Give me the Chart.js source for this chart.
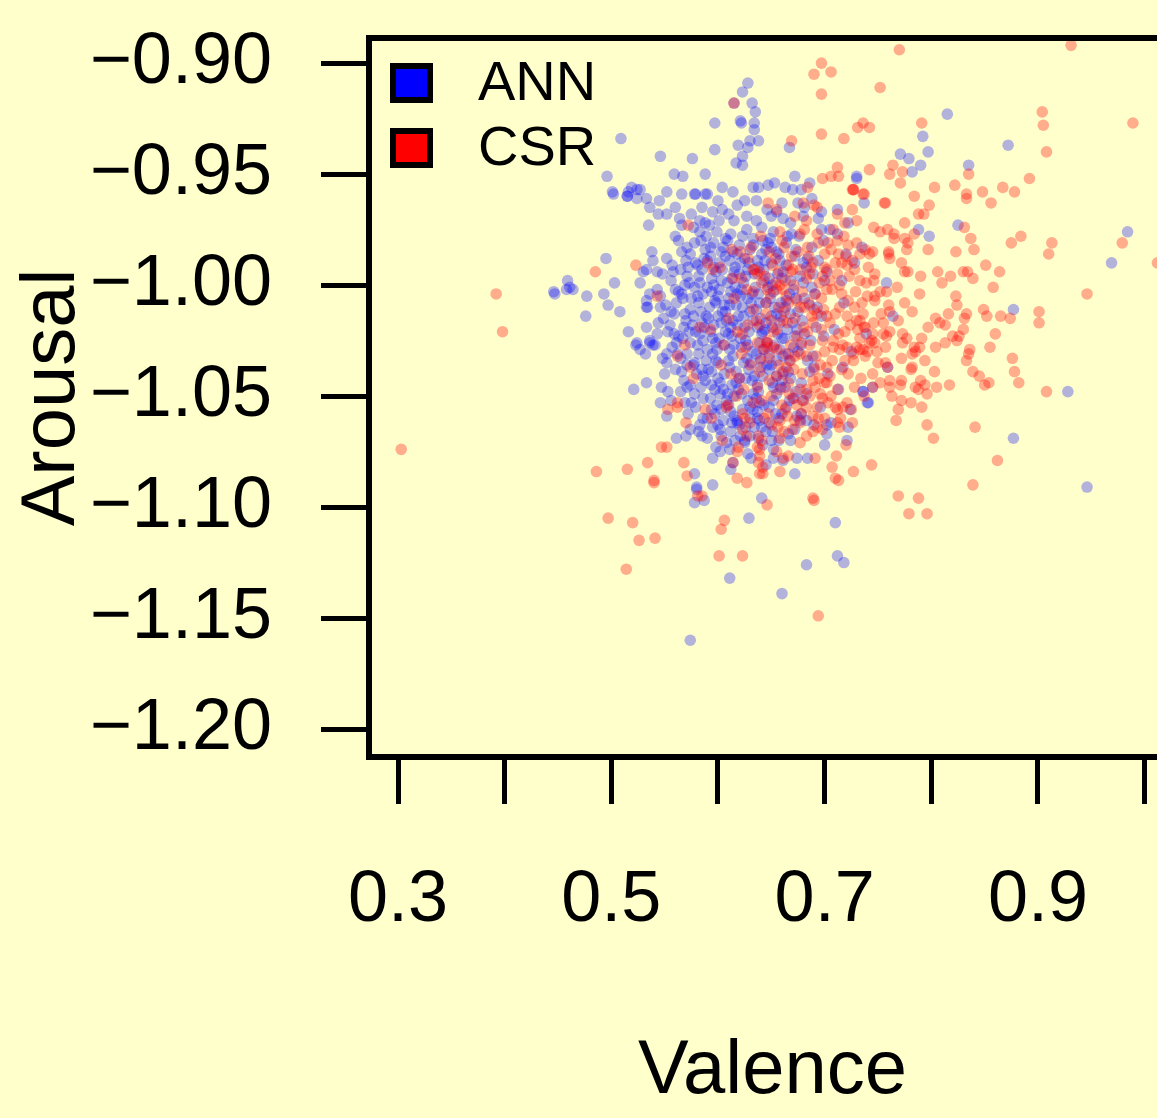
<!DOCTYPE html>
<html>
<head>
<meta charset="utf-8">
<script src="https://cdn.jsdelivr.net/npm/chart.js@4/dist/chart.umd.min.js"></script>
<style>
  html, body { margin: 0; padding: 0; background: #ffffcc; overflow: hidden; }
  canvas { display: block; }
</style>
</head>
<body>
<canvas id="scatter" width="1200" height="1118"></canvas>
<script>
// axis ticks
const xTicks = [0.3, 0.4, 0.5, 0.6, 0.7, 0.8, 0.9, 1.0];
const xLabelled = [0.3, 0.5, 0.7, 0.9];
const yTicks = [-1.20, -1.15, -1.10, -1.05, -1.00, -0.95, -0.90];

// ANN predictions [valence, arousal]
const annPoints = [
  // sparse points around the cluster
  [0.815,-0.923],[0.792,-0.933],[0.797,-0.940],[0.771,-0.941],[0.779,-0.943],[0.872,-0.937],
  [0.790,-0.946],[0.782,-0.949],[0.835,-0.946],[0.730,-0.951],[0.737,-0.963],[0.984,-0.976],
  [0.969,-0.990],[0.825,-0.973],[0.788,-0.975],[0.798,-0.978],[0.735,-0.983],[0.758,-0.999],
  [0.877,-1.011],[0.764,-1.014],[0.739,-1.022],[0.759,-1.037],[0.745,-1.046],[0.736,-1.048],
  [0.741,-1.053],[0.928,-1.048],[0.877,-1.069],[0.946,-1.091],
  [0.578,-1.098],[0.587,-1.097],[0.580,-1.092],[0.641,-1.096],[0.629,-1.105],[0.710,-1.107],
  [0.712,-1.122],[0.718,-1.125],[0.683,-1.126],[0.611,-1.132],[0.660,-1.139],[0.574,-1.160],
  [0.578,-1.085],[0.580,-1.091],[0.561,-1.069],[0.570,-1.068],[0.574,-1.065],
  [0.521,-1.047],[0.533,-1.044],[0.547,-1.046],[0.553,-1.048],[0.546,-1.053],[0.552,-1.059],
  [0.550,-1.040],[0.523,-1.027],[0.527,-1.029],[0.532,-1.031],[0.536,-1.026],[0.541,-1.027],
  [0.548,-1.033],[0.552,-1.031],
  [0.495,-0.988],[0.459,-0.998],[0.461,-1.001],[0.458,-1.002],[0.464,-1.002],[0.446,-1.003],
  [0.447,-1.004],[0.477,-1.005],[0.503,-0.999],[0.493,-1.004],[0.497,-1.009],[0.508,-1.012],
  [0.476,-1.014],[0.516,-1.021],
  [0.502,-0.959],[0.515,-0.960],[0.524,-0.961],[0.516,-0.958],[0.524,-0.957],[0.533,-0.961],
  [0.545,-0.962],[0.536,-0.965],[0.552,-0.958],[0.566,-0.959],[0.578,-0.959],[0.588,-0.959],
  [0.560,-0.965],[0.564,-0.970],[0.544,-0.968],[0.552,-0.968],[0.535,-0.973],[0.583,-0.971],
  [0.588,-0.972],[0.538,-0.985],[0.539,-0.989],[0.533,-0.993],[0.527,-0.999],[0.530,-0.994],
  [0.543,-0.994],[0.543,-1.002],[0.536,-1.004],[0.533,-1.007],[0.546,-1.005],[0.534,-1.010],
  [0.533,-1.010],[0.546,-1.010],[0.533,-1.019],[0.544,-1.017],[0.553,-1.021],[0.524,-1.026],
  [0.536,-1.025],[0.539,-1.027],[0.543,-1.022],
  [0.628,-0.909],[0.623,-0.913],[0.615,-0.918],[0.632,-0.918],[0.635,-0.922],[0.621,-0.926],
  [0.622,-0.927],[0.634,-0.927],[0.634,-0.930],[0.630,-0.935],[0.638,-0.935],[0.628,-0.938],
  [0.619,-0.937],[0.623,-0.942],[0.617,-0.945],[0.623,-0.946],[0.597,-0.927],[0.597,-0.939],
  [0.509,-0.934],[0.546,-0.942],[0.576,-0.943],[0.588,-0.950],[0.559,-0.950],[0.567,-0.951],
  [0.496,-0.951],[0.501,-0.958],[0.519,-0.956],[0.527,-0.957],[0.515,-0.960],
  [0.579,-0.959],[0.590,-0.959],[0.604,-0.956],[0.614,-0.958],[0.633,-0.956],[0.638,-0.956],
  [0.647,-0.955],[0.653,-0.954],[0.663,-0.956],[0.670,-0.957],[0.678,-0.957],[0.672,-0.951],
  [0.667,-0.938],[0.686,-0.954],[0.730,-0.952],
  [0.717,-1.037],[0.736,-1.048],[0.740,-1.053],[0.724,-1.056],[0.722,-1.064],[0.721,-1.070],
  [0.702,-1.063],[0.702,-1.067],[0.674,-1.059],[0.677,-1.061],[0.683,-1.061],[0.668,-1.070],
  [0.674,-1.078],[0.652,-1.078],[0.595,-1.090],[0.614,-1.080],[0.595,-1.064],[0.602,-1.065],
  [0.611,-1.074],[0.602,-1.075],[0.630,-1.068],[0.625,-1.070],[0.651,-1.066],[0.639,-1.061],
  [0.641,-1.064],[0.630,-1.055],[0.633,-1.056],[0.613,-1.062],[0.618,-1.062],
  // dense core
  [0.575,-0.968],[0.592,-0.973],[0.604,-0.966],[0.615,-0.971],[0.627,-0.969],[0.641,-0.974],
  [0.655,-0.967],[0.668,-0.972],[0.681,-0.965],[0.694,-0.970],[0.705,-0.975],
  [0.560,-0.978],[0.571,-0.983],[0.583,-0.976],[0.596,-0.981],[0.603,-0.985],[0.612,-0.977],
  [0.620,-0.982],[0.633,-0.979],[0.645,-0.984],[0.652,-0.976],[0.664,-0.981],[0.676,-0.978],
  [0.688,-0.983],[0.699,-0.980],[0.712,-0.977],
  [0.552,-0.988],[0.565,-0.993],[0.574,-0.986],[0.581,-0.991],[0.590,-0.989],[0.598,-0.994],
  [0.607,-0.987],[0.616,-0.992],[0.625,-0.988],[0.634,-0.995],[0.641,-0.986],[0.650,-0.990],
  [0.661,-0.994],[0.672,-0.987],[0.683,-0.992],[0.694,-0.989],[0.702,-0.994],
  [0.556,-0.998],[0.563,-1.003],[0.571,-0.996],[0.578,-1.001],[0.586,-1.004],[0.594,-0.997],
  [0.601,-1.002],[0.609,-0.999],[0.618,-1.004],[0.626,-0.996],[0.635,-1.001],[0.643,-0.998],
  [0.652,-1.003],[0.660,-0.997],[0.671,-1.002],[0.680,-0.999],[0.691,-1.004],[0.700,-0.998],
  [0.551,-1.009],[0.559,-1.013],[0.567,-1.006],[0.574,-1.011],[0.582,-1.008],[0.589,-1.014],
  [0.597,-1.007],[0.604,-1.012],[0.611,-1.009],[0.619,-1.014],[0.628,-1.006],[0.636,-1.011],
  [0.645,-1.008],[0.655,-1.013],[0.664,-1.007],[0.675,-1.012],[0.686,-1.009],[0.697,-1.014],
  [0.555,-1.018],[0.563,-1.023],[0.570,-1.016],[0.579,-1.021],[0.587,-1.019],[0.595,-1.024],
  [0.603,-1.017],[0.610,-1.022],[0.618,-1.018],[0.626,-1.025],[0.633,-1.016],[0.642,-1.021],
  [0.651,-1.019],[0.660,-1.024],[0.670,-1.017],[0.681,-1.022],[0.692,-1.019],
  [0.557,-1.028],[0.565,-1.033],[0.574,-1.026],[0.582,-1.031],[0.590,-1.029],[0.598,-1.034],
  [0.606,-1.027],[0.614,-1.032],[0.622,-1.028],[0.631,-1.035],[0.639,-1.026],[0.648,-1.031],
  [0.658,-1.029],[0.667,-1.034],[0.678,-1.027],[0.689,-1.032],
  [0.560,-1.038],[0.568,-1.043],[0.577,-1.036],[0.586,-1.041],[0.594,-1.039],[0.602,-1.044],
  [0.611,-1.037],[0.620,-1.042],[0.629,-1.038],[0.637,-1.045],[0.646,-1.036],[0.655,-1.041],
  [0.666,-1.039],[0.678,-1.044],[0.690,-1.037],
  [0.565,-1.048],[0.575,-1.053],[0.584,-1.046],[0.593,-1.051],[0.602,-1.049],[0.610,-1.054],
  [0.619,-1.047],[0.628,-1.052],[0.638,-1.048],[0.648,-1.055],[0.659,-1.046],[0.671,-1.051],
  [0.683,-1.049],
  [0.572,-1.058],[0.583,-1.063],[0.594,-1.056],[0.605,-1.061],[0.615,-1.059],[0.626,-1.064],
  [0.637,-1.057],[0.648,-1.062],[0.660,-1.058],[0.672,-1.065],
  [0.585,-1.068],[0.598,-1.073],[0.612,-1.066],[0.625,-1.071],[0.638,-1.069],[0.652,-1.074],
  [0.666,-1.067],
  [0.595,-1.078],[0.612,-1.083],[0.628,-1.076],[0.645,-1.081],[0.661,-1.079],
  [0.579,-0.990],[0.588,-0.984],[0.596,-0.992],[0.605,-0.983],[0.613,-0.997],[0.621,-0.990],
  [0.630,-0.984],[0.638,-0.992],[0.647,-0.981],[0.656,-0.995],
  [0.575,-1.006],[0.583,-0.999],[0.592,-1.010],[0.600,-1.005],[0.608,-1.016],[0.616,-1.001],
  [0.623,-1.010],[0.632,-1.004],[0.640,-1.015],[0.649,-1.006],[0.658,-1.017],[0.667,-1.004],
  [0.573,-1.021],[0.581,-1.027],[0.591,-1.015],[0.599,-1.029],[0.607,-1.021],[0.615,-1.027],
  [0.624,-1.014],[0.632,-1.030],[0.641,-1.022],[0.650,-1.036],[0.662,-1.024],
  [0.580,-1.040],[0.589,-1.034],[0.597,-1.047],[0.606,-1.040],[0.615,-1.050],[0.624,-1.035],
  [0.633,-1.049],[0.642,-1.041],[0.652,-1.052],[0.663,-1.046],
  [0.590,-1.060],[0.603,-1.068],[0.618,-1.061],[0.631,-1.078],[0.645,-1.066],[0.657,-1.060],
  [0.600,-0.962],[0.618,-0.964],[0.636,-0.962],[0.660,-0.963],[0.688,-0.961],[0.712,-0.966],
  [0.720,-0.986],[0.716,-0.998],[0.709,-1.020],[0.703,-1.040],[0.696,-1.055],[0.690,-1.063],
  [0.722,-0.972],[0.728,-0.990],[0.718,-1.008],[0.725,-1.030],[0.713,-1.047],[0.706,-1.062],
  [0.700,-1.072],[0.684,-1.078],[0.672,-1.085],
  [0.566,-0.985],[0.584,-0.980],[0.599,-0.976],[0.611,-0.989],[0.627,-0.975],[0.642,-0.980],
  [0.657,-0.986],[0.669,-0.977],[0.684,-0.988],[0.697,-0.975],
  [0.558,-0.994],[0.569,-1.000],[0.585,-0.993],[0.603,-0.998],[0.620,-0.995],[0.637,-0.989],
  [0.648,-0.997],[0.664,-0.991],[0.677,-0.996],[0.689,-0.995],
  [0.561,-1.008],[0.577,-1.014],[0.594,-1.003],[0.606,-1.009],[0.621,-1.005],[0.639,-1.008],
  [0.653,-1.010],[0.668,-1.013],[0.681,-1.006],[0.693,-1.010],
  [0.559,-1.022],[0.576,-1.018],[0.593,-1.021],[0.612,-1.019],[0.629,-1.021],[0.645,-1.017],
  [0.656,-1.022],[0.674,-1.020],[0.687,-1.025],[0.699,-1.023],
  [0.562,-1.031],[0.578,-1.035],[0.595,-1.031],[0.611,-1.029],[0.627,-1.033],[0.643,-1.029],
  [0.661,-1.032],[0.675,-1.030],[0.686,-1.039],
  [0.571,-1.046],[0.588,-1.043],[0.605,-1.047],[0.617,-1.044],[0.634,-1.041],[0.651,-1.044],
  [0.668,-1.042],[0.680,-1.052],
  [0.579,-1.055],[0.597,-1.058],[0.612,-1.057],[0.630,-1.060],[0.643,-1.054],[0.664,-1.055],
  [0.678,-1.058],
  [0.590,-1.069],[0.608,-1.071],[0.621,-1.068],[0.642,-1.072],[0.657,-1.070],
  [0.548,-0.995],[0.549,-1.015],[0.552,-1.035],[0.556,-1.052],[0.566,-0.973],[0.585,-0.965],
  [0.625,-0.962],[0.650,-0.969],[0.675,-0.963],[0.697,-0.967],
  [0.563,-0.980],[0.577,-0.974],[0.589,-0.978],[0.601,-0.971],[0.609,-0.980],[0.623,-0.978],
  [0.636,-0.971],[0.649,-0.979],[0.661,-0.970],[0.673,-0.984],
  [0.557,-0.991],[0.570,-0.989],[0.582,-0.996],[0.593,-0.987],[0.604,-0.993],[0.614,-0.985],
  [0.628,-0.993],[0.644,-0.989],[0.655,-0.985],[0.668,-0.998],[0.680,-0.990],
  [0.560,-1.002],[0.573,-0.999],[0.590,-1.001],[0.598,-1.008],[0.612,-1.003],[0.624,-0.999],
  [0.631,-1.008],[0.647,-1.001],[0.659,-1.008],[0.673,-1.006],[0.688,-1.001],
  [0.556,-1.012],[0.568,-1.019],[0.584,-1.012],[0.596,-1.018],[0.607,-1.012],[0.617,-1.009],
  [0.625,-1.019],[0.637,-1.019],[0.650,-1.014],[0.665,-1.020],[0.679,-1.016],
  [0.561,-1.026],[0.571,-1.031],[0.586,-1.025],[0.601,-1.024],[0.610,-1.034],[0.621,-1.024],
  [0.636,-1.031],[0.646,-1.026],[0.655,-1.034],[0.671,-1.028],[0.684,-1.034],
  [0.566,-1.039],[0.574,-1.045],[0.591,-1.038],[0.600,-1.042],[0.613,-1.045],[0.626,-1.042],
  [0.640,-1.037],[0.652,-1.046],[0.661,-1.039],[0.673,-1.048],
  [0.569,-1.053],[0.586,-1.051],[0.599,-1.054],[0.609,-1.049],[0.623,-1.056],[0.636,-1.051],
  [0.654,-1.058],[0.667,-1.052],
  [0.582,-1.066],[0.600,-1.063],[0.616,-1.070],[0.634,-1.064],[0.650,-1.070],
  [0.595,-0.967],[0.610,-0.968],[0.646,-0.966],[0.680,-0.969],
  [0.572,-0.992],[0.587,-0.988],[0.601,-0.990],[0.615,-0.994],[0.629,-0.990],[0.643,-0.993],
  [0.658,-0.989],[0.566,-1.004],[0.581,-1.005],[0.596,-1.000],[0.610,-1.006],[0.622,-1.002],
  [0.638,-1.004],[0.651,-1.000],[0.663,-1.010],[0.569,-1.013],[0.585,-1.017],[0.600,-1.014],
  [0.614,-1.016],[0.630,-1.012],[0.644,-1.020],[0.659,-1.014],[0.672,-1.023],[0.567,-1.024],
  [0.583,-1.022],[0.598,-1.026],[0.613,-1.023],[0.628,-1.027],[0.640,-1.033],[0.653,-1.027],
  [0.666,-1.031],[0.571,-1.036],[0.585,-1.038],[0.600,-1.035],[0.617,-1.039],[0.632,-1.043],
  [0.648,-1.038],[0.660,-1.043],[0.578,-1.049],[0.594,-1.045],[0.608,-1.052],[0.622,-1.049],
  [0.639,-1.053],[0.655,-1.049],[0.586,-1.060],[0.603,-1.056],[0.620,-1.063],[0.637,-1.060],
  [0.578,-0.981],[0.593,-0.983],[0.607,-0.979],[0.618,-0.986],[0.633,-0.982],[0.650,-0.983],
  [0.665,-0.978]
];

// CSR predictions [valence, arousal]
const csrPoints = [
  [0.770,-0.894],[0.931,-0.892],[0.752,-0.911],[0.736,-0.927],[0.742,-0.929],[0.791,-0.927],
  [0.904,-0.922],[0.905,-0.928],[0.989,-0.927],[0.908,-0.940],[0.764,-0.946],[0.761,-0.950],
  [0.773,-0.949],[0.835,-0.950],[0.742,-0.948],[0.771,-0.954],[0.803,-0.956],[0.822,-0.955],
  [0.833,-0.959],[0.833,-0.961],[0.848,-0.958],[0.867,-0.956],[0.878,-0.958],[0.892,-0.952],
  [0.856,-0.963],[0.798,-0.964],[0.784,-0.960],[0.757,-0.963],[0.727,-0.957],[0.737,-0.959],
  [0.979,-0.981],[1.012,-0.990],[0.946,-1.004],[0.913,-0.981],[0.910,-0.986],[0.884,-0.978],
  [0.875,-0.981],[0.831,-0.974],[0.837,-0.979],[0.840,-0.984],[0.823,-0.985],[0.793,-0.968],
  [0.788,-0.968],[0.797,-0.984],[0.775,-0.972],[0.759,-0.975],[0.765,-0.977],[0.765,-0.979],
  [0.775,-0.979],[0.778,-0.981],[0.777,-0.984],[0.784,-0.977],[0.746,-0.974],[0.742,-0.986],
  [0.760,-0.986],[0.761,-0.988],[0.756,-0.963],[0.851,-0.991],[0.864,-0.994],[0.806,-0.994],
  [0.810,-0.999],[0.818,-0.996],[0.830,-0.994],[0.834,-0.994],[0.839,-0.997],[0.858,-1.001],
  [0.775,-0.994],[0.778,-0.994],[0.747,-0.995],[0.758,-1.003],[0.789,-1.004],[0.823,-1.005],
  [0.824,-1.009],[0.775,-1.008],[0.747,-1.005],[0.747,-1.007],[0.901,-1.012],[0.901,-1.017],
  [0.874,-1.015],[0.865,-1.014],[0.849,-1.011],[0.852,-1.014],[0.833,-1.013],[0.831,-1.015],
  [0.816,-1.013],[0.804,-1.015],[0.808,-1.017],[0.813,-1.018],[0.830,-1.020],[0.820,-1.023],
  [0.824,-1.025],[0.826,-1.023],[0.813,-1.026],[0.860,-1.022],[0.855,-1.028],[0.836,-1.029],
  [0.835,-1.031],[0.833,-1.034],[0.804,-1.028],[0.791,-1.024],[0.789,-1.028],[0.784,-1.028],
  [0.782,-1.031],[0.785,-1.030],[0.773,-1.022],[0.777,-1.024],[0.773,-1.026],[0.794,-1.034],
  [0.772,-1.033],[0.757,-1.028],[0.749,-1.030],[0.747,-1.026],[0.744,-1.025],[0.745,-1.022],
  [0.737,-1.019],[0.733,-1.016],[0.755,-1.017],[0.761,-1.012],[0.753,-1.013],[0.769,-1.016],
  [0.761,-1.021],[0.758,-1.023],[0.738,-1.032],[0.733,-1.029],[0.757,-1.035],[0.759,-1.037],
  [0.782,-1.037],[0.781,-1.038],[0.803,-1.039],[0.839,-1.039],[0.845,-1.041],[0.850,-1.045],
  [0.854,-1.044],[0.876,-1.033],[0.878,-1.039],[0.882,-1.044],[0.908,-1.048],[0.817,-1.045],
  [0.805,-1.046],[0.790,-1.043],[0.794,-1.045],[0.796,-1.049],[0.788,-1.047],[0.785,-1.046],
  [0.772,-1.043],[0.771,-1.045],[0.761,-1.043],[0.761,-1.046],[0.763,-1.050],[0.752,-1.044],
  [0.745,-1.046],[0.772,-1.052],[0.781,-1.053],[0.791,-1.055],[0.769,-1.056],[0.767,-1.061],
  [0.796,-1.063],[0.802,-1.069],[0.841,-1.064],[0.744,-1.081],[0.862,-1.079],[0.839,-1.090],
  [0.769,-1.095],[0.788,-1.096],[0.779,-1.103],[0.796,-1.103],
  [0.497,-1.105],[0.520,-1.107],[0.526,-1.115],[0.541,-1.114],[0.514,-1.128],[0.581,-1.095],
  [0.646,-1.099],[0.690,-1.097],[0.606,-1.106],[0.603,-1.110],[0.601,-1.122],[0.623,-1.122],
  [0.694,-1.149],[0.392,-1.004],[0.398,-1.021],[0.303,-1.074],
  [0.547,-1.073],[0.552,-1.073],[0.486,-1.084],[0.515,-1.083],[0.534,-1.080],[0.540,-1.088],
  [0.540,-1.089],[0.568,-1.080],[0.571,-1.086],[0.553,-1.056],[0.562,-1.053],[0.562,-1.055],
  [0.570,-1.062],[0.574,-1.037],[0.577,-1.042],[0.562,-1.032],[0.569,-1.027],
  [0.485,-0.994],[0.523,-0.991],[0.572,-0.973],[0.543,-1.005],
  [0.615,-0.918],[0.690,-0.905],[0.706,-0.904],[0.697,-0.914],[0.697,-0.900],[0.669,-0.935],
  [0.697,-0.932],[0.718,-0.934],[0.712,-0.947],[0.706,-0.951],[0.713,-0.951],[0.698,-0.952],
  [0.684,-0.956],[0.727,-0.957],[0.731,-0.929],
  [0.647,-0.963],[0.680,-0.963],[0.693,-0.965],[0.683,-0.971],[0.726,-0.957],[0.736,-0.959],
  [0.712,-0.968],[0.719,-0.972],[0.730,-0.971],[0.712,-0.980],[0.703,-0.981],[0.722,-0.982],
  [0.693,-0.977],[0.677,-0.977],[0.658,-0.976],[0.710,-0.990],[0.721,-0.991],[0.728,-0.993],
  [0.733,-0.998],[0.714,-1.000],[0.707,-1.002],[0.698,-0.996],[0.686,-0.995],[0.677,-0.993],
  [0.670,-0.993],[0.702,-1.002],[0.691,-1.004],[0.693,-1.013],[0.702,-1.014],[0.714,-1.010],
  [0.721,-1.014],[0.730,-1.016],[0.738,-1.019],[0.708,-1.025],[0.717,-1.027],[0.730,-1.028],
  [0.658,-1.000],[0.661,-1.002],[0.633,-0.993],[0.639,-0.994],[0.644,-0.996],
  [0.634,-0.993],[0.637,-0.995],[0.602,-0.992],[0.595,-0.993],[0.590,-0.990],[0.613,-0.984],
  [0.621,-0.985],[0.614,-0.997],[0.633,-1.003],[0.646,-1.002],[0.655,-1.002],[0.623,-1.022],
  [0.646,-1.025],[0.637,-1.026],[0.646,-1.028],[0.593,-1.020],[0.583,-1.019],[0.666,-1.008],
  [0.674,-1.007],[0.677,-1.010],[0.661,-1.016],[0.665,-1.017],[0.655,-1.020],[0.680,-1.019],
  [0.689,-1.017],[0.698,-1.025],[0.708,-1.028],
  [0.646,-1.026],[0.652,-1.028],[0.642,-1.029],[0.714,-1.029],[0.721,-1.028],[0.727,-1.031],
  [0.736,-1.029],[0.677,-1.031],[0.683,-1.032],[0.696,-1.036],[0.702,-1.037],[0.727,-1.034],
  [0.668,-1.034],[0.661,-1.040],[0.639,-1.039],[0.655,-1.041],[0.666,-1.044],[0.689,-1.043],
  [0.700,-1.044],[0.702,-1.044],[0.677,-1.047],[0.686,-1.050],[0.679,-1.052],[0.670,-1.051],
  [0.696,-1.049],[0.698,-1.051],[0.703,-1.053],[0.710,-1.055],[0.712,-1.056],[0.717,-1.055],
  [0.693,-1.055],[0.683,-1.055],[0.689,-1.059],[0.721,-1.053],[0.609,-1.054],[0.608,-1.055],
  [0.623,-1.058],[0.625,-1.060],[0.663,-1.056],[0.665,-1.059],[0.658,-1.061],[0.656,-1.064],
  [0.672,-1.061],[0.677,-1.062],[0.670,-1.065],[0.693,-1.064],[0.689,-1.066],[0.712,-1.062],
  [0.714,-1.064],[0.726,-1.062],[0.588,-1.056],[0.594,-1.060],[0.604,-1.070],[0.623,-1.065],
  [0.627,-1.068],[0.638,-1.068],[0.641,-1.070],[0.637,-1.073],[0.639,-1.074],[0.658,-1.069],
  [0.677,-1.071],[0.655,-1.075],[0.666,-1.077],[0.661,-1.078],[0.639,-1.077],[0.638,-1.080],
  [0.642,-1.082],[0.639,-1.085],[0.642,-1.085],[0.618,-1.075],[0.619,-1.073],[0.614,-1.080],
  [0.618,-1.087],[0.627,-1.089],[0.658,-1.084],[0.691,-1.078],[0.711,-1.077],[0.707,-1.082],
  [0.710,-1.087],[0.713,-1.088],[0.727,-1.084],[0.689,-1.096],[0.585,-1.095],
  [0.655,-0.966],[0.672,-0.969],[0.690,-0.964],[0.708,-0.975],[0.726,-0.966],
  [0.640,-0.978],[0.662,-0.983],[0.681,-0.975],[0.700,-0.986],[0.718,-0.978],[0.738,-0.984],
  [0.752,-0.976],[0.628,-0.988],[0.648,-0.985],[0.666,-0.991],[0.684,-0.983],[0.702,-0.993],
  [0.720,-0.987],[0.741,-0.992],[0.760,-0.985],[0.772,-0.990],
  [0.622,-0.997],[0.654,-0.999],[0.683,-0.997],[0.697,-1.006],[0.712,-0.995],[0.729,-1.003],
  [0.746,-0.998],[0.768,-1.001],[0.790,-0.996],
  [0.615,-1.006],[0.633,-1.011],[0.649,-1.004],[0.662,-1.012],[0.690,-1.011],[0.705,-1.017],
  [0.722,-1.007],[0.740,-1.005],[0.760,-1.009],[0.782,-1.012],
  [0.610,-1.015],[0.628,-1.018],[0.645,-1.013],[0.674,-1.023],[0.688,-1.014],[0.719,-1.021],
  [0.736,-1.013],[0.755,-1.022],[0.797,-1.019],
  [0.605,-1.027],[0.622,-1.031],[0.640,-1.034],[0.655,-1.029],[0.671,-1.038],[0.686,-1.027],
  [0.716,-1.038],[0.733,-1.024],[0.750,-1.035],
  [0.603,-1.036],[0.620,-1.042],[0.637,-1.046],[0.683,-1.047],[0.728,-1.046],[0.745,-1.040],
  [0.631,-0.983],[0.651,-0.991],[0.669,-0.987],[0.689,-0.990],[0.706,-0.984],[0.726,-0.989],
  [0.745,-0.985],[0.627,-1.002],[0.645,-1.008],[0.663,-0.998],[0.679,-1.003],[0.695,-0.999],
  [0.716,-1.004],[0.735,-1.008],[0.752,-1.003],[0.618,-1.021],[0.636,-1.016],[0.652,-1.021],
  [0.668,-1.027],[0.684,-1.021],[0.700,-1.030],[0.724,-1.018],[0.742,-1.026],[0.612,-1.040],
  [0.630,-1.036],[0.648,-1.043],[0.664,-1.037],[0.679,-1.040],[0.695,-1.042],[0.712,-1.047],
  [0.737,-1.050],[0.617,-1.050],[0.633,-1.053],[0.650,-1.050],[0.667,-1.049],[0.700,-1.060],
  [0.720,-1.072],[0.650,-1.063],
  [0.660,-0.980],[0.675,-0.985],[0.694,-0.981],[0.713,-0.986],[0.730,-0.981],
  [0.641,-0.999],[0.657,-0.994],[0.671,-1.000],[0.687,-0.992],[0.705,-0.998],[0.723,-0.996],
  [0.739,-0.999],[0.639,-1.018],[0.657,-1.010],[0.672,-1.015],[0.681,-1.010],[0.697,-1.020],
  [0.710,-1.013],[0.728,-1.010],[0.746,-1.017],[0.626,-1.028],[0.648,-1.033],[0.663,-1.031],
  [0.678,-1.026],[0.692,-1.032],[0.707,-1.034],[0.722,-1.040],[0.740,-1.030],
  [0.624,-1.047],[0.641,-1.052],[0.658,-1.047],[0.674,-1.054],[0.691,-1.046],[0.706,-1.050],
  [0.725,-1.056],[0.630,-1.062],[0.647,-1.058],[0.662,-1.066],[0.683,-1.068],[0.698,-1.065],
  [0.654,-0.988],[0.668,-0.994],[0.685,-0.987],[0.700,-0.992],[0.716,-0.990],[0.733,-0.986],
  [0.650,-1.016],[0.664,-1.005],[0.685,-1.008],[0.699,-1.011],[0.713,-1.022],[0.731,-1.020],
  [0.657,-1.036],[0.672,-1.032],[0.690,-1.038],[0.705,-1.041],[0.719,-1.034],[0.734,-1.042],
  [0.643,-1.060],[0.660,-1.054],[0.678,-1.058],[0.694,-1.060],[0.715,-1.060]
];

const FONT = "'Liberation Sans', Arial, Helvetica, sans-serif";

function minusLabel(v) {
  return (v < 0 ? '\u2212' : '') + Math.abs(v).toFixed(2);
}

// box round the plot region plus the R style legend
const boxAndLegend = {
  id: 'boxAndLegend',
  afterDatasetsDraw(chart) {
    const {ctx, chartArea: a} = chart;
    ctx.save();
    ctx.strokeStyle = '#000';
    ctx.lineWidth = 6;
    ctx.strokeRect(a.left, a.top, a.right - a.left, a.bottom - a.top);
    ctx.restore();
  },
  afterDraw(chart) {
    const ctx = chart.ctx;
    const items = [
      {label: 'ANN', color: '#0000ff', y: 83},
      {label: 'CSR', color: '#ff0000', y: 148}
    ];
    ctx.save();
    ctx.font = '56px ' + FONT;
    ctx.textBaseline = 'middle';
    ctx.textAlign = 'left';
    items.forEach(it => {
      ctx.fillStyle = it.color;
      ctx.fillRect(393, it.y - 17, 37, 34);
      ctx.lineWidth = 6;
      ctx.strokeStyle = '#000';
      ctx.strokeRect(393, it.y - 17, 37, 34);
      ctx.fillStyle = '#000';
      ctx.fillText(it.label, 478, it.y + 2);
    });
    ctx.restore();
  }
};

// keep the plot box where R put it: no extra room for the end labels
function noLabelPadding(s) {
  s.paddingTop = 0;
  s.paddingBottom = 0;
  s.paddingLeft = 0;
  s.paddingRight = 0;
}

const ctx = document.getElementById('scatter').getContext('2d');
new Chart(ctx, {
  type: 'scatter',
  data: {
    datasets: [
      {
        label: 'ANN',
        data: annPoints.map(p => ({x: p[0], y: p[1]})),
        backgroundColor: 'rgba(0, 0, 255, 0.3)',
        pointRadius: 5.8,
        pointBorderWidth: 0,
        order: 2
      },
      {
        label: 'CSR',
        data: csrPoints.map(p => ({x: p[0], y: p[1]})),
        backgroundColor: 'rgba(255, 0, 0, 0.32)',
        pointRadius: 5.8,
        pointBorderWidth: 0,
        order: 1
      }
    ]
  },
  options: {
    responsive: false,
    animation: false,
    devicePixelRatio: 1,
    layout: { padding: { top: 38, right: 24, bottom: 0, left: 0 } },
    plugins: {
      legend: { display: false },
      tooltip: { enabled: false }
    },
    scales: {
      x: {
        type: 'linear',
        min: 0.2728,
        max: 1.0294,
        afterBuildTicks: s => { s.ticks = xTicks.map(v => ({value: v})); },
        afterFit: s => { s.height = 361; noLabelPadding(s); },
        ticks: {
          autoSkip: false,
          maxRotation: 0,
          padding: 54,
          color: '#000',
          font: { family: FONT, size: 72 },
          callback: v => xLabelled.some(l => Math.abs(l - v) < 1e-6) ? v.toFixed(1) : ''
        },
        grid: { drawOnChartArea: false, drawTicks: true, tickLength: 47, lineWidth: 5, color: '#000' },
        border: { display: false },
        title: {
          display: true,
          text: 'Valence',
          color: '#000',
          font: { family: FONT, size: 76, lineHeight: 1 },
          padding: { top: 0, bottom: 8 }
        }
      },
      y: {
        type: 'linear',
        min: -1.2126,
        max: -0.8887,
        afterBuildTicks: s => { s.ticks = yTicks.map(v => ({value: v})); },
        afterFit: s => { s.width = 369; noLabelPadding(s); },
        ticks: {
          autoSkip: false,
          padding: 49,
          color: '#000',
          font: { family: FONT, size: 72 },
          callback: v => minusLabel(v)
        },
        grid: { drawOnChartArea: false, drawTicks: true, tickLength: 48, lineWidth: 5, color: '#000' },
        border: { display: false },
        title: {
          display: true,
          text: 'Arousal',
          color: '#000',
          font: { family: FONT, size: 76, lineHeight: 1 },
          padding: { top: 15, bottom: 0 }
        }
      }
    }
  },
  plugins: [boxAndLegend]
});
</script>
</body>
</html>
